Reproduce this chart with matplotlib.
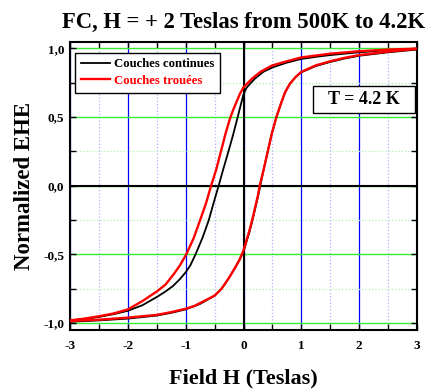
import matplotlib
matplotlib.use("Agg")
import matplotlib.pyplot as plt
from matplotlib.ticker import MultipleLocator, FixedLocator, FixedFormatter
from matplotlib.patches import Rectangle

# --- data ---
# Couches continues (black): descending branch (+3 -> -3) then ascending (-3 -> +3)
cont_down_x = [3.0, 2.75, 2.5, 2.25, 2.0, 1.75, 1.5, 1.25, 1.0, 0.75, 0.5, 0.35, 0.2, 0.1, 0.05,
               0.0, -0.04, -0.1, -0.18, -0.26, -0.35, -0.43, -0.52, -0.6, -0.71, -0.83, -0.92,
               -1.0, -1.1, -1.22, -1.35, -1.5, -1.75, -2.0, -2.25, -2.5, -2.75, -3.0]
cont_down_y = [0.995, 0.99, 0.985, 0.978, 0.97, 0.96, 0.95, 0.937, 0.922, 0.895, 0.86, 0.83, 0.78,
               0.735, 0.71, 0.665, 0.6, 0.5, 0.37, 0.25, 0.12, 0.0, -0.13, -0.25, -0.38, -0.5, -0.58,
               -0.63, -0.68, -0.73, -0.77, -0.81, -0.87, -0.91, -0.935, -0.955, -0.97, -0.98]
cont_up_x = [-3.0, -2.5, -2.0, -1.5, -1.25, -1.0, -0.75, -0.5, -0.38, -0.25, -0.15, -0.07, 0.0,
             0.05, 0.1, 0.15, 0.2, 0.25, 0.29, 0.35, 0.42, 0.49, 0.57, 0.65, 0.72, 0.8, 0.9,
             1.0, 1.25, 1.5, 1.75, 2.0, 2.5, 3.0]
cont_up_y = [-0.99, -0.98, -0.967, -0.945, -0.925, -0.9, -0.86, -0.8, -0.75, -0.67, -0.6, -0.54, -0.48,
             -0.41, -0.34, -0.26, -0.17, -0.08, 0.0, 0.12, 0.25, 0.38, 0.5, 0.6, 0.68, 0.74, 0.79,
             0.825, 0.87, 0.9, 0.925, 0.945, 0.97, 0.99]

# Couches trouees (red)
trou_down_x = [3.0, 2.5, 2.0, 1.5, 1.0, 0.75, 0.5, 0.3, 0.15, 0.0, -0.06, -0.12, -0.18, -0.24,
               -0.31, -0.39, -0.47, -0.56, -0.65, -0.75, -0.86, -0.99, -1.1, -1.2, -1.35, -1.5,
               -1.75, -2.0, -2.25, -2.5, -2.75, -3.0]
trou_down_y = [0.997, 0.99, 0.978, 0.96, 0.933, 0.905, 0.875, 0.83, 0.78, 0.715, 0.67, 0.61, 0.55,
               0.48, 0.38, 0.25, 0.12, 0.0, -0.13, -0.25, -0.38, -0.5, -0.58, -0.64, -0.72, -0.77,
               -0.84, -0.9, -0.93, -0.95, -0.967, -0.98]
trou_up_x = [-3.0, -2.5, -2.0, -1.5, -1.25, -1.0, -0.85, -0.5, -0.38, -0.25, -0.15, -0.07, 0.0,
             0.05, 0.1, 0.15, 0.2, 0.25, 0.28, 0.35, 0.42, 0.49, 0.57, 0.65, 0.72, 0.8, 0.9,
             1.0, 1.25, 1.5, 1.75, 2.0, 2.5, 3.0]
trou_up_y = [-0.985, -0.975, -0.96, -0.94, -0.92, -0.895, -0.875, -0.8, -0.75, -0.67, -0.6, -0.54, -0.47,
             -0.4, -0.33, -0.25, -0.16, -0.07, 0.0, 0.12, 0.25, 0.38, 0.5, 0.6, 0.68, 0.74, 0.79,
             0.828, 0.875, 0.905, 0.93, 0.95, 0.975, 0.995]

series_labels = ["Couches continues", "Couches trouées"]
x_ticks = [-3, -2, -1, 0, 1, 2, 3]
x_ticklabels = ["-3", "-2", "-1", "0", "1", "2", "3"]
y_ticks = [-1.0, -0.5, 0.0, 0.5, 1.0]
y_ticklabels = ["-1,0", "-0,5", "0,0", "0,5", "1,0"]
title = "FC, H = + 2 Teslas from 500K to 4.2K"
xlabel = "Field H (Teslas)"
ylabel = "Normalized EHE"
annot = "T = 4.2 K"

plt.rcParams['font.family'] = ['Liberation Serif', 'DejaVu Serif']
plt.rcParams['font.weight'] = 'bold'

fig = plt.figure(figsize=(4.28, 3.90), dpi=100)
ax = fig.add_axes([0.1636, 0.1538, 0.8107, 0.7385])

ax.set_xlim(-3, 3)
ax.set_ylim(-1.05, 1.045)

ax.xaxis.set_major_locator(FixedLocator(x_ticks))
ax.xaxis.set_major_formatter(FixedFormatter(x_ticklabels))
ax.xaxis.set_minor_locator(MultipleLocator(0.5))
ax.yaxis.set_major_locator(FixedLocator(y_ticks))
ax.yaxis.set_major_formatter(FixedFormatter(y_ticklabels))
ax.yaxis.set_minor_locator(MultipleLocator(0.25))

ax.xaxis.grid(True, which='major', color='#0000ff', lw=0.9)
ax.xaxis.grid(True, which='minor', color='#b0b0ff', lw=0.9, ls=':')
ax.yaxis.grid(True, which='major', color='#33ee33', lw=1.0)
ax.yaxis.grid(True, which='minor', color='#b0f0b0', lw=0.9, ls=':')
ax.set_axisbelow(True)
ax.axhline(0, color='black', lw=1.5, zorder=1.5)
ax.axvline(0, color='black', lw=1.5, zorder=1.5)

ax.plot(cont_down_x + cont_up_x, cont_down_y + cont_up_y, color='black', lw=1.3,
        label=series_labels[0], zorder=3)
ax.plot(trou_down_x + trou_up_x, trou_down_y + trou_up_y, color='#ff0000', lw=1.7,
        label=series_labels[1], zorder=4)

ax.tick_params(which='both', direction='in', top=True, right=True, length=4, width=1,
               labelsize=9.5)
ax.tick_params(axis='x', pad=7)
ax.tick_params(axis='y', pad=4)
for lab in ax.get_xticklabels() + ax.get_yticklabels():
    lab.set_fontweight('bold')
for sp in ax.spines.values():
    sp.set_linewidth(1.5)

ax.set_title(title, fontsize=16.3, fontweight='bold', pad=10)
ax.set_xlabel(xlabel, fontsize=16, fontweight='bold', labelpad=12)
ax.set_ylabel(ylabel, fontsize=16.5, fontweight='bold', labelpad=6)

leg = ax.legend(loc='upper left', bbox_to_anchor=(0.0144, 0.963), borderaxespad=0,
                fancybox=False, edgecolor='black', framealpha=1,
                handlelength=2.3, handletextpad=0.3, borderpad=0.45, labelspacing=0.35,
                prop={'weight': 'bold', 'size': 9.2})
leg.get_frame().set_linewidth(1.0)
for t, c in zip(leg.get_texts(), ['black', '#ff0000']):
    t.set_color(c)

ax.add_patch(Rectangle((0.6994, 0.7524), 0.2948, 0.0948, transform=ax.transAxes,
                       facecolor='white', edgecolor='black', lw=1.0, zorder=5))
ax.text(0.8468, 0.7998, annot, transform=ax.transAxes, ha='center', va='center',
        fontsize=13, fontweight='bold', zorder=6)

fig.savefig('out.png', dpi=100)
